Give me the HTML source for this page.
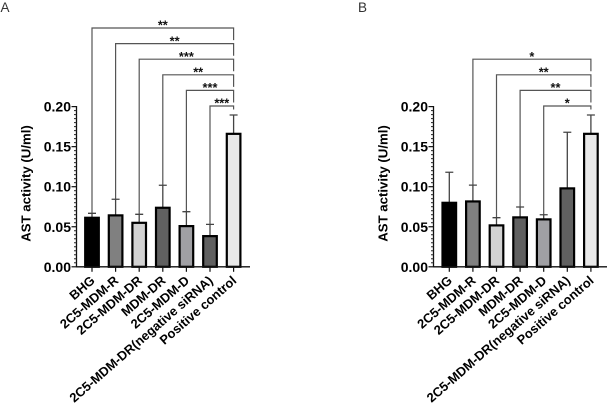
<!DOCTYPE html>
<html>
<head>
<meta charset="utf-8">
<style>
html,body{margin:0;padding:0;background:#fff;}
svg{display:block;}
text{font-family:"Liberation Sans",Arial,sans-serif;}
</style>
</head>
<body>
<svg id="figure" width="608" height="406" viewBox="0 0 608 406" xmlns="http://www.w3.org/2000/svg" style="filter:blur(0.3px)">
<text x="0.5" y="12" font-size="13.5" fill="#333">A</text>
<text x="358" y="12" font-size="13.5" fill="#333">B</text>
</svg>
<script>
const categories = ["BHG","2C5-MDM-R","2C5-MDM-DR","MDM-DR","2C5-MDM-D","2C5-MDM-DR(negative siRNA)","Positive control"];
const yTicks = [0, 0.05, 0.10, 0.15, 0.20];
const valuesA = [0.0612, 0.0642, 0.0549, 0.0737, 0.0508, 0.0383, 0.166];
const errorTopsA = [0.0668, 0.0843, 0.0655, 0.1018, 0.0688, 0.053, 0.1895];
const valuesB = [0.0799, 0.0816, 0.0517, 0.0617, 0.0592, 0.0979, 0.166];
const errorTopsB = [0.118, 0.102, 0.0613, 0.0747, 0.065, 0.168, 0.1895];
const sigFromA = [0, 1, 2, 3, 4, 5];
const sigStarsA = ["**", "**", "***", "**", "***", "***"];
const sigFromB = [1, 2, 3, 4];
const sigStarsB = ["*", "**", "**", "*"];
const yTitle = "AST activity (U/ml)";
const barFills = ["#000000","#808080","#d2d2d2","#606060","#a0a0a4","#606060","#e8e8e8"];

const NS = "http://www.w3.org/2000/svg";
const svg = document.getElementById("figure");
function add(parent, tag, attrs, text){
  const el = document.createElementNS(NS, tag);
  for (const k in attrs) el.setAttribute(k, attrs[k]);
  if (text !== undefined) el.textContent = text;
  parent.appendChild(el);
  return el;
}
const y0 = 266.8, yPerUnit = 801;
function yScale(v){ return y0 - v * yPerUnit; }
const BRACKET_STEP = 15.6;

function drawPanel(name, axisX, firstBarX, axisEnd, values, errorTops, sigFrom, sigStars){
  const step = 23.6, barW = 13.6;
  const xScale = i => firstBarX + i * step;
  const g = add(svg, "g", {});
  
  

  // brackets
  const rightX = xScale(categories.length - 1);
  const n = sigFrom.length;
  sigFrom.forEach((from, i) => {
    const yTop = 106 - (n - 1 - i) * BRACKET_STEP;
    const lx = xScale(from);
    const bottom = yScale(errorTops[from]);
    const rightBottom = i === n - 1 ? yTop + 3.5 : yTop + BRACKET_STEP - 3.5;
    const br = add(g, "path", {d:"M"+lx+" "+bottom+"V"+yTop+"H"+rightX+"V"+rightBottom, fill:"none", stroke:"#555", "stroke-width":1.2});
    
    
    const st = add(g, "text", {x:(lx + rightX) / 2, y:yTop + 1.7, "font-size":12.8, "font-weight":"bold", "text-anchor":"middle", fill:"#111"}, sigStars[i]);
    
    
  });

  // bars + error bars
  values.forEach((v, i) => {
    const x = xScale(i);
    const eb = add(g, "path", {d:"M"+x+" "+yScale(v)+"V"+yScale(errorTops[i])+"M"+(x-4)+" "+yScale(errorTops[i])+"H"+(x+4), fill:"none", stroke:"#444", "stroke-width":1.3});
    
    
    const b = add(g, "rect", {x:x - barW / 2, y:yScale(v), width:barW, height:y0 - yScale(v), fill:barFills[i], stroke:"#000", "stroke-width":2.2});
    
    
  });

  // y axis
  const yAxis = add(g, "line", {x1:axisX, x2:axisX, y1:yScale(0.2) - 0.6, y2:y0 + 0.6, stroke:"#111", "stroke-width":1.3});
  
  
  for (let k = 1; k < 40; k++){
    if (k % 10 === 0) continue;
    const t = add(g, "line", {x1:axisX - 2.5, x2:axisX, y1:yScale(k * 0.005), y2:yScale(k * 0.005), stroke:"#222", "stroke-width":1});
    
    
  }
  yTicks.forEach(v => {
    const t = add(g, "line", {x1:axisX - 5, x2:axisX, y1:yScale(v), y2:yScale(v), stroke:"#111", "stroke-width":1.2});
    
    
    const l = add(g, "text", {x:axisX - 5.5, y:yScale(v) + 5, "font-size":14, "font-weight":"bold", "text-anchor":"end", fill:"#000"}, v.toFixed(2));
    
    
  });
  const title = add(g, "text", {transform:"translate(" + (axisX - 46) + " 183.5) rotate(-90)", "font-size":13.2, "font-weight":"bold", "text-anchor":"middle", fill:"#000"}, yTitle);
  
  

  // x axis
  const xAxis = add(g, "line", {x1:axisX, x2:axisEnd, y1:y0, y2:y0, stroke:"#111", "stroke-width":1.3});
  
  
  categories.forEach((c, i) => {
    const x = xScale(i);
    const t = add(g, "line", {x1:x, x2:x, y1:y0, y2:y0 + 5, stroke:"#111", "stroke-width":1.2});
    
    
    const l = add(g, "text", {transform:"translate(" + (x + 3.7) + " " + (y0 + 15) + ") rotate(-41)", "font-size":12.9, "font-weight":"bold", "text-anchor":"end", fill:"#000"}, c);
    
    
  });
}
drawPanel("a", 76.5, 92, 250, valuesA, errorTopsA, sigFromA, sigStarsA);
drawPanel("b", 433.5, 449.3, 607, valuesB, errorTopsB, sigFromB, sigStarsB);
</script>
</body>
</html>
